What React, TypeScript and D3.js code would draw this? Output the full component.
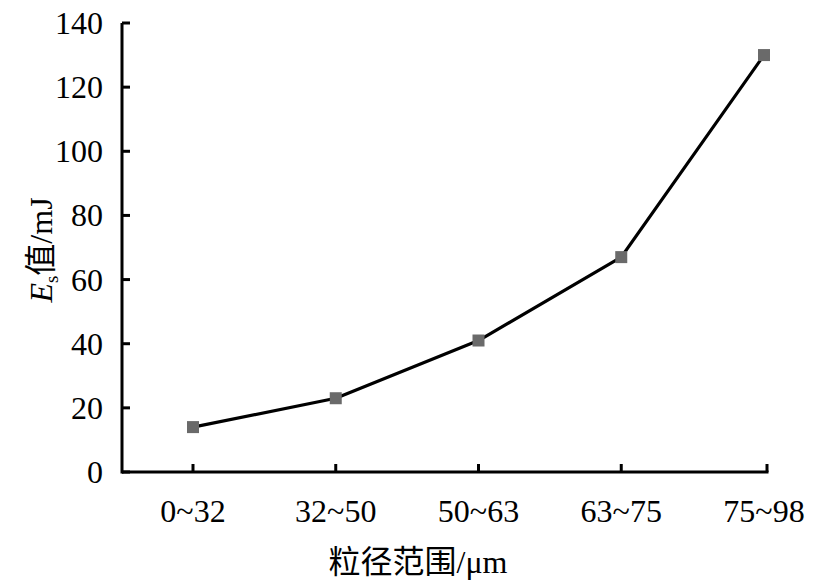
import { useRef, useEffect } from 'react';
import * as d3 from 'd3';

const categories = ['0~32', '32~50', '50~63', '63~75', '75~98'];
const esValues = [14, 23, 41, 67, 130];
const yTicks = [0, 20, 40, 60, 80, 100, 120, 140];

export default function App() {
  const svgRef = useRef<SVGSVGElement>(null);
  const width = 813;
  const height = 587;

  useEffect(() => {
    const svg = d3.select(svgRef.current);
    svg.selectAll('*').remove();

    const axisLeft = 122;
    const axisRight = 767;
    const x = d3.scalePoint<string>().domain(categories).range([193, 764]);
    const y = d3.scaleLinear().domain([0, 140]).range([472, 23]);
    const serif = "'Liberation Serif', 'Times New Roman', serif";
    const cjk = "'Noto Sans CJK SC', sans-serif";

    const g = svg.append('g');

    // axes
    g.append('line').attr('x1', axisLeft).attr('y1', y(0)).attr('x2', axisRight + 1.5).attr('y2', y(0))
      .attr('stroke', '#000').attr('stroke-width', 3);
    g.append('line').attr('x1', axisLeft).attr('y1', y(0) + 1.5).attr('x2', axisLeft).attr('y2', y(140))
      .attr('stroke', '#000').attr('stroke-width', 3);

    yTicks.forEach((t) => {
      g.append('line').attr('x1', axisLeft).attr('x2', axisLeft + 8).attr('y1', y(t)).attr('y2', y(t))
        .attr('stroke', '#000').attr('stroke-width', 3);
      g.append('text').attr('x', 103).attr('y', y(t) + 11).attr('text-anchor', 'end')
        .style('font-family', serif).attr('font-size', '32px').attr('fill', '#000')
        .text(t);
    });

    categories.forEach((c, i) => {
      const px = i === categories.length - 1 ? axisRight : x(c)!;
      g.append('line').attr('x1', px).attr('x2', px).attr('y1', y(0)).attr('y2', y(0) - 8)
        .attr('stroke', '#000').attr('stroke-width', 3);
      g.append('text').attr('x', x(c)!).attr('y', 522).attr('text-anchor', 'middle')
        .style('font-family', serif).attr('font-size', '32px').attr('fill', '#000')
        .text(c);
    });

    // line
    const line = d3.line<number>().x((_, i) => x(categories[i])!).y((d) => y(d));
    g.append('path').attr('d', line(esValues)).attr('fill', 'none')
      .attr('stroke', '#000').attr('stroke-width', 3.2).attr('stroke-linejoin', 'round');

    esValues.forEach((v, i) => {
      g.append('rect').attr('x', x(categories[i])! - 6).attr('y', y(v) - 6)
        .attr('width', 12).attr('height', 12).attr('fill', '#6a6a6a');
    });

    // x title
    const xt = g.append('text').attr('x', 418).attr('y', 573).attr('text-anchor', 'middle')
      .attr('font-size', '32px').attr('fill', '#000');
    xt.append('tspan').style('font-family', cjk).text('粒径范围');
    xt.append('tspan').style('font-family', serif).text('/μm');

    // y title
    const yt = g.append('text').attr('transform', 'translate(52,250) rotate(-90)')
      .attr('text-anchor', 'middle').attr('font-size', '32px').attr('fill', '#000');
    yt.append('tspan').style('font-family', serif).attr('font-style', 'italic').text('E');
    yt.append('tspan').style('font-family', serif).attr('font-size', '19px').attr('dy', 6).text('s');
    yt.append('tspan').style('font-family', cjk).attr('dy', -6).text('值');
    yt.append('tspan').style('font-family', serif).text('/mJ');
  }, []);

  return (
    <svg ref={svgRef} width={width} height={height} viewBox={`0 0 ${width} ${height}`}
      style={{ display: 'block', position: 'absolute', left: 0, top: 0, background: '#fff' }} />
  );
}
